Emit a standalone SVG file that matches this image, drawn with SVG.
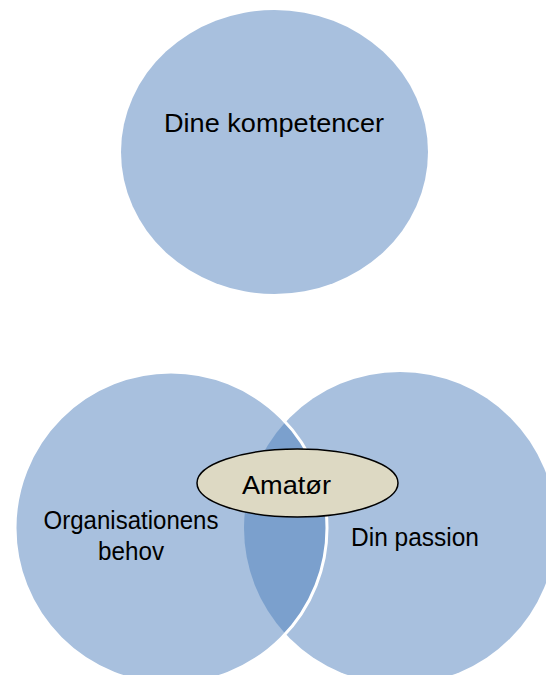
<svg xmlns="http://www.w3.org/2000/svg" width="546" height="675" viewBox="0 0 546 675">
<style>
.c{fill:#A8C0DE;}
.lens{fill:#7BA0CD;}
.t{font-family:"Liberation Sans",Arial,sans-serif;font-size:25px;fill:#000;}
</style>
<rect width="546" height="675" fill="#fff"/>
<g id="node-kompetencer">
<ellipse class="c" cx="274.5" cy="152" rx="153.5" ry="142"/>
<text class="t" x="274" y="132" text-anchor="middle" textLength="220" lengthAdjust="spacingAndGlyphs">Dine kompetencer</text>
</g>
<g id="node-passion">
<circle class="c" cx="400" cy="528" r="156"/>
</g>
<g id="node-organisation">
<circle class="c" cx="171" cy="528" r="156"/>
</g>
<g id="overlap">
<path class="lens" d="M285.5 422.05 A156 156 0 0 1 285.5 633.95 A156 156 0 0 1 285.5 422.05 Z"/>
<circle cx="171" cy="528" r="156" fill="none" stroke="#fff" stroke-width="3"/>
</g>
<g id="labels">
<text class="t" x="131" y="529" text-anchor="middle" textLength="175" lengthAdjust="spacingAndGlyphs">Organisationens</text>
<text class="t" x="131" y="560" text-anchor="middle" textLength="66" lengthAdjust="spacingAndGlyphs">behov</text>
<text class="t" x="415" y="546" text-anchor="middle" textLength="128" lengthAdjust="spacingAndGlyphs">Din passion</text>
</g>
<g id="node-amatoer">
<ellipse cx="297.5" cy="483" rx="100.5" ry="34" fill="#DDD9C3" stroke="#000" stroke-width="1.5"/>
<text class="t" x="286.5" y="494" text-anchor="middle" textLength="89" lengthAdjust="spacingAndGlyphs">Amatør</text>
</g>
<g id="connectors"></g>
</svg>
